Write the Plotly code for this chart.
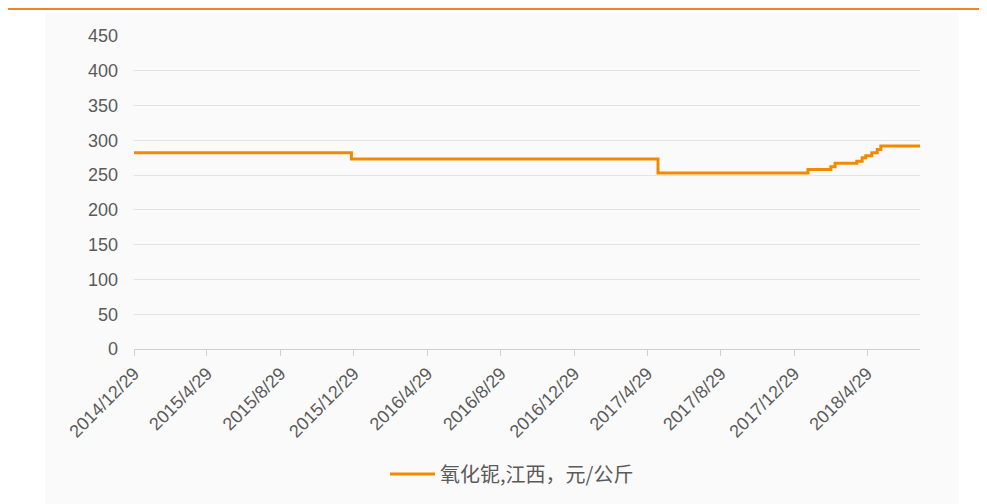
import plotly.graph_objects as go

# Data (step series)
dates = ['2014-12-29', '2015-12-25', '2017-05-17', '2018-01-21', '2018-02-28',
         '2018-03-07', '2018-04-12', '2018-04-21', '2018-04-27', '2018-05-07',
         '2018-05-16', '2018-05-22', '2018-07-26']
values = [282, 273, 253, 258, 262, 267, 270, 275, 278, 282, 287, 292, 292]
series_name = '氧化铌,江西，元/公斤'

tick_dates = ['2014-12-29', '2015-04-29', '2015-08-29', '2015-12-29', '2016-04-29',
              '2016-08-29', '2016-12-29', '2017-04-29', '2017-08-29', '2017-12-29',
              '2018-04-29']
tick_labels = ['2014/12/29', '2015/4/29', '2015/8/29', '2015/12/29', '2016/4/29',
               '2016/8/29', '2016/12/29', '2017/4/29', '2017/8/29', '2017/12/29',
               '2018/4/29']
y_ticks = [0, 50, 100, 150, 200, 250, 300, 350, 400, 450]

# page body has an 8px margin, so the figure starts at (8, 8) on screen
OFF = 8
W, H = 987 - OFF, 504 - OFF
L, R, T, B = 134 - OFF, 67, 36 - OFF, 154
pw, ph = W - L - R, H - T - B

def px(x):
    return (x - OFF - L) / pw

def py(y):
    return (H - B - (y - OFF)) / ph

fig = go.Figure()
fig.add_trace(go.Scatter(
    x=dates, y=values, mode='lines', name=series_name,
    line=dict(color='#F28A00', width=3, shape='hv'),
))

fig.update_layout(
    width=W, height=H,
    margin=dict(l=L, r=R, t=T, b=B, pad=0),
    paper_bgcolor='white', plot_bgcolor='rgba(0,0,0,0)',
    font=dict(family='Liberation Sans, Arial, Noto Sans CJK SC', size=18, color='#5a5a5a'),
    showlegend=True,
    legend=dict(orientation='h', x=px(512), xanchor='center', y=py(474), yanchor='middle',
                itemwidth=45,
                font=dict(family='Noto Sans CJK SC, Liberation Sans', size=20, color='#5a5a5a'),
                bgcolor='rgba(0,0,0,0)'),
    xaxis=dict(type='date', range=['2014-12-29', '2018-07-26'],
               tickvals=tick_dates, ticktext=tick_labels, tickangle=-45,
               showgrid=False, showline=True, linecolor='#d0d0d0', linewidth=1,
               ticks='outside', ticklen=6, tickcolor='#d0d0d0', zeroline=False,
               tickfont=dict(size=18, color='#5a5a5a')),
    yaxis=dict(range=[0, 450], tickvals=y_ticks, showgrid=True, gridcolor='#e3e3e3',
               gridwidth=1, zeroline=False, showline=False, ticks='', ticklabelstandoff=15,
               tickfont=dict(size=18, color='#5a5a5a')),
    shapes=[
        dict(type='rect', xref='paper', yref='paper', x0=px(45), x1=px(959),
             y0=py(520), y1=py(13), fillcolor='#fafafa', line=dict(width=0), layer='below'),
        dict(type='line', xref='paper', yref='paper', x0=px(7), x1=px(995),
             y0=py(9), y1=py(9), line=dict(color='#EE8426', width=2)),
    ],
)

fig.write_html('out.html')
